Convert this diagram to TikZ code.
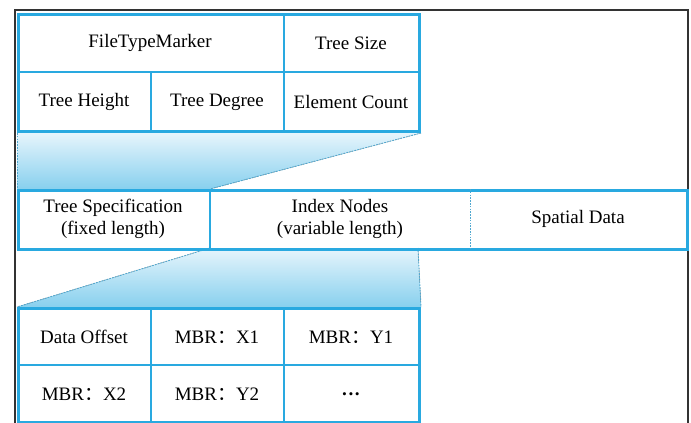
\documentclass[tikz,border=0pt]{standalone}
\usepackage{fontspec}
\setmainfont{Liberation Serif}
\newfontfamily\timesface{Liberation Serif}
\newfontfamily\cjk{Noto Sans CJK SC}
\usetikzlibrary{calc}
\definecolor{cellblue}{RGB}{41,169,224}
\definecolor{dashblue}{RGB}{80,168,208}
\definecolor{fadetop}{RGB}{230,245,252}
\definecolor{fadebottom}{RGB}{136,208,238}
\newcommand{\fw}[1]{{\cjk #1}}
\tikzset{
  outerbox/.style={draw=cellblue, line width=3pt, inner sep=0pt},
  gridline/.style={draw=cellblue, line width=1.5pt},
  cuttrace/.style={draw=dashblue, line width=0.9pt, dash pattern=on 1.6pt off 1.2pt},
  zoomfan/.style={top color=fadetop, bottom color=fadebottom, draw=none},
  label/.style={inner sep=0pt, align=center, font=\timesface\fontsize{19}{22.5}\selectfont},
}
\begin{document}
\begin{tikzpicture}[x=1pt, y=-1pt]
\useasboundingbox (0,0) rectangle (691,423);

% page frame (open at the bottom)
\draw[line width=1.3pt, black!80] (15,440) -- (15,10) -- (688,10) -- (688,440);

% layout boxes
\node[outerbox, minimum width=401pt, minimum height=117pt, anchor=north west] (spec) at (17,13) {};
\node[outerbox, minimum width=669pt, minimum height=59pt, anchor=north west] (file) at (17,189) {};
\node[outerbox, minimum width=401pt, minimum height=114pt, anchor=north west] (node) at (17,307) {};

% zoom fans between the levels
\coordinate (fsplit) at (210,189);
\coordinate (fsplitb) at (210,248);
\coordinate (nright) at (418,248);
\fill[zoomfan] (spec.south west) -- (spec.south east) -- (fsplit) -- (file.north west) -- cycle;
\draw[cuttrace] (spec.south west) -- (file.north west);
\draw[cuttrace] (spec.south east) -- (fsplit);
\fill[zoomfan] (fsplitb) -- (nright) -- (node.north east) -- (node.north west) -- cycle;
\draw[cuttrace] (fsplitb) -- (node.north west);
\draw[cuttrace] (nright) -- (node.north east);

% redraw borders on top of the fans
\node[outerbox, minimum width=401pt, minimum height=117pt, anchor=north west] at (17,13) {};
\node[outerbox, minimum width=669pt, minimum height=59pt, anchor=north west] at (17,189) {};
\node[outerbox, minimum width=401pt, minimum height=114pt, anchor=north west] at (17,307) {};

% tree specification grid
\draw[gridline] (17,72) -- (418,72);
\draw[gridline] (284,13) -- (284,130);
\draw[gridline] (151,72) -- (151,130);

% file sections
\draw[gridline] (fsplit) -- (fsplitb);
\draw[cuttrace] (470,189) -- (470,248);

% index node grid
\draw[gridline] (17,365) -- (418,365);
\draw[gridline] (151,307) -- (151,421);
\draw[gridline] (284,307) -- (284,421);

% texts
\node[label] (ftm) at (150,43) {FileTypeMarker};
\node[label] (tsz) at (351,43) {Tree Size};
\node[label] (thg) at (84,102) {Tree Height};
\node[label] (tdg) at (217,102) {Tree Degree};
\node[label] (ecn) at (351,102) {Element Count};

\node[label] (tsp) at (113,219) {Tree Specification\\(fixed length)};
\node[label] (inx) at (340,219) {Index Nodes\\(variable length)};
\node[label] (spd) at (578,219) {Spatial Data};

\node[label] (dof) at (84,337) {Data Offset};
\node[label] (mx1) at (217,337) {MBR\fw{：}X1};
\node[label] (my1) at (351,337) {MBR\fw{：}Y1};
\node[label] (mx2) at (84,394) {MBR\fw{：}X2};
\node[label] (my2) at (217,394) {MBR\fw{：}Y2};
\node[label, yshift=-3pt] (etc) at (351,394) {\textbf{···}};
\end{tikzpicture}
\end{document}
